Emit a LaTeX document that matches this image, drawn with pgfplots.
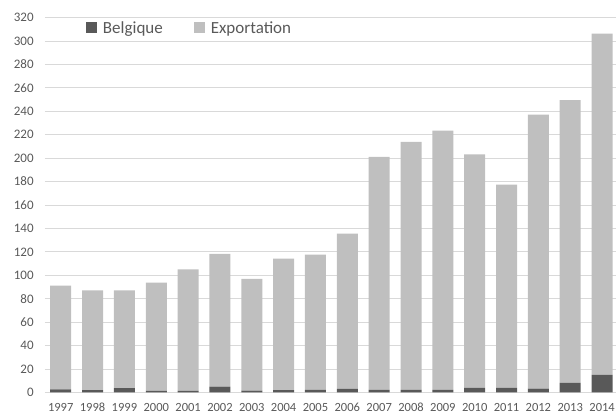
\documentclass[border=0pt]{standalone}
\usepackage{pgfplots}
\pgfplotsset{compat=1.18}
\usepackage{fontspec}
\setmainfont{Carlito}
\definecolor{belg}{HTML}{595959}
\definecolor{expo}{HTML}{BFBFBF}
\definecolor{grid}{HTML}{D9D9D9}
\definecolor{lab}{HTML}{595959}
\begin{document}
\begin{tikzpicture}
\begin{axis}[
  at={(0,0)}, anchor=south west,
  scale only axis,
  width=573.2bp, height=375bp,
  ybar stacked, bar width=21bp,
  xmin=-0.5, xmax=17.5, ymin=0, ymax=320,
  ytick={0,20,...,320},
  xtick={0,...,17},
  xticklabels={1997,1998,1999,2000,2001,2002,2003,2004,2005,2006,2007,2008,2009,2010,2011,2012,2013,2014},
  /pgf/number format/assume math mode=true,
  major tick length=0pt,
  axis x line*=bottom, axis y line*=left,
  y axis line style={draw=none},
  x axis line style={draw=grid, line width=1bp},
  ymajorgrids, grid style={draw=grid, line width=0.8bp},
  tick label style={font=\fontsize{13bp}{15bp}\selectfont, text=lab},
  yticklabel style={anchor=east, inner sep=0pt, xshift=-11bp},
  xticklabel style={anchor=base, inner sep=0pt, yshift=-19bp, font=\fontsize{12.5bp}{15bp}\selectfont},
  legend style={at={(41bp,364.5bp)}, anchor=west, draw=none, fill=none,
    legend columns=2, font=\fontsize{17bp}{19bp}\selectfont, text=lab,
    inner sep=0pt, row sep=0pt,
    /tikz/every even column/.append style={column sep=29bp}},
  legend image code/.code={\fill[#1] (0bp,-5.5bp) rectangle (11bp,5.5bp); \path (15bp,0bp);},
  legend cell align=left,
]
\addplot[fill=belg, draw=none] coordinates {
(0,2.6) (1,2.0) (2,3.7) (3,1.4) (4,1.4) (5,5.1) (6,1.5) (7,2.0) (8,2.3)
(9,3.1) (10,2.3) (11,2.3) (12,2.3) (13,4.0) (14,4.0) (15,3.4) (16,8.3) (17,15.1)};
\addlegendentry{Belgique}
\addplot[fill=expo, draw=none] coordinates {
(0,88.6) (1,85.2) (2,83.5) (3,92.3) (4,103.7) (5,113.1) (6,95.4) (7,112.2) (8,115.3)
(9,132.5) (10,198.7) (11,211.5) (12,221.2) (13,199.3) (14,173.4) (15,233.7) (16,241.1) (17,291.2)};
\addlegendentry{Exportation}
\end{axis}
\pgfresetboundingbox
\path (-44.8bp,-23.5bp) rectangle (571.2bp,392.5bp);
\end{tikzpicture}
\end{document}
